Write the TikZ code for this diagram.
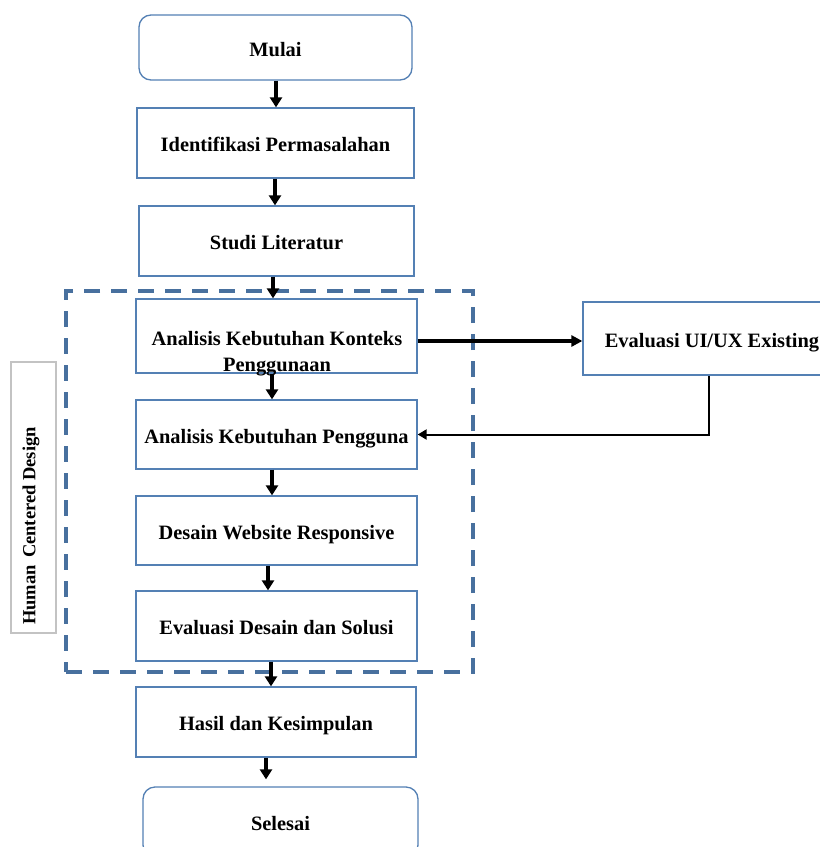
\documentclass[tikz,border=0pt]{standalone}
\usepackage{fontspec}
\setmainfont{Liberation Serif}
\usetikzlibrary{arrows.meta,calc}
\definecolor{boxblue}{RGB}{84,128,180}
\definecolor{dashblue}{RGB}{72,112,158}
\definecolor{graybox}{RGB}{195,195,195}
\begin{document}
\begin{tikzpicture}[x=1pt,y=-1pt,
  lbl/.style={font=\fontsize{20.4}{26}\selectfont\bfseries, align=center, inner sep=0pt},
  box/.style={lbl, draw=boxblue, line width=1.3pt, fill=white, text height=17.5pt, text depth=0pt},
  term/.style={box, rounded corners=12pt},
  dashbox/.style={draw=dashblue, line width=3.3pt, dash pattern=on 16pt off 11pt},
  sidebox/.style={draw=graybox, line width=1.2pt, fill=white},
  arr/.style={line width=3.8pt, -{Triangle[width=12pt,length=10pt]}},
  thinarr/.style={line width=2pt, -{Triangle[width=10pt,length=9pt]}}
]
\clip (0,0) rectangle (820,847);
\fill[white] (0,0) rectangle (820,847);

% dashed frame and side label
\node[dashbox, minimum width=407pt, minimum height=381pt, inner sep=0pt] (hcd) at (269.5,481.5) {};
\node[sidebox, minimum width=45pt, minimum height=271pt, inner sep=0pt] (hcdlabel) at (33.5,497.5) {};
\node[lbl, rotate=90, font=\fontsize{18.5}{22}\selectfont\bfseries] (hcdtext) at (31,526) {Human\hspace{0.4em}Centered Design};

% main flow
\node[term, minimum width=273pt, minimum height=65pt] (mulai) at (275.5,47.5) {Mulai};
\node[box, minimum width=277pt, minimum height=70pt] (ident) at (275.5,143) {Identifikasi Permasalahan};
\node[box, minimum width=275pt, minimum height=70pt] (studi) at (276.5,241) {Studi Literatur};
\node[box, minimum width=281pt, minimum height=74pt] (akk) at (276.5,336) {};
\node[lbl] (akktext) at (277,354) {Analisis Kebutuhan Konteks\\Penggunaan};
\node[box, minimum width=281pt, minimum height=69pt] (akp) at (276.5,434.5) {Analisis Kebutuhan Pengguna};
\node[box, minimum width=281pt, minimum height=69pt] (desain) at (276.5,530.5) {Desain Website Responsive};
\node[box, minimum width=281pt, minimum height=70pt] (eval) at (276.5,626) {Evaluasi Desain dan Solusi};
\node[box, minimum width=280pt, minimum height=70pt] (hasil) at (276,722) {Hasil dan Kesimpulan};
\node[term, minimum width=275pt, minimum height=70pt] (selesai) at (280.5,822) {Selesai};

\node[box, minimum width=262pt, minimum height=73pt] (evx) at (714,338.5) {};
\node[lbl, text height=17.5pt, text depth=0pt] (evxtext) at (712,338.5) {Evaluasi UI/UX Existing};

% arrows
\draw[arr] ([xshift=0.5pt]mulai.south) -- ([xshift=0.5pt]ident.north);
\draw[arr] ([xshift=-0.5pt]ident.south) -- ([xshift=-0.5pt]ident.south |- studi.north);
\draw[arr] ([xshift=-3.5pt]studi.south) -- ([xshift=-3.5pt]akk.north);
\draw[arr] ([xshift=-4.5pt]akk.south) -- ([xshift=-4.5pt]akp.north);
\draw[arr] ([xshift=-4.5pt]akp.south) -- ([xshift=-4.5pt]desain.north);
\draw[arr] ([xshift=-8.5pt]desain.south) -- ([xshift=-8.5pt]eval.north);
\draw[arr] ([xshift=-5.5pt]eval.south) -- ([xshift=-5pt]hasil.north);
\draw[arr, shorten >=7pt] ([xshift=-10pt]hasil.south) -- ([xshift=-14.5pt]selesai.north);

\draw[line width=4.2pt, -{Triangle[width=11pt,length=11pt]}] ([yshift=-5pt]akk.east) -- ([yshift=-2.5pt]evx.west);
\draw[thinarr] ([xshift=-5pt]evx.south) |- (akp.east);
\end{tikzpicture}
\end{document}
